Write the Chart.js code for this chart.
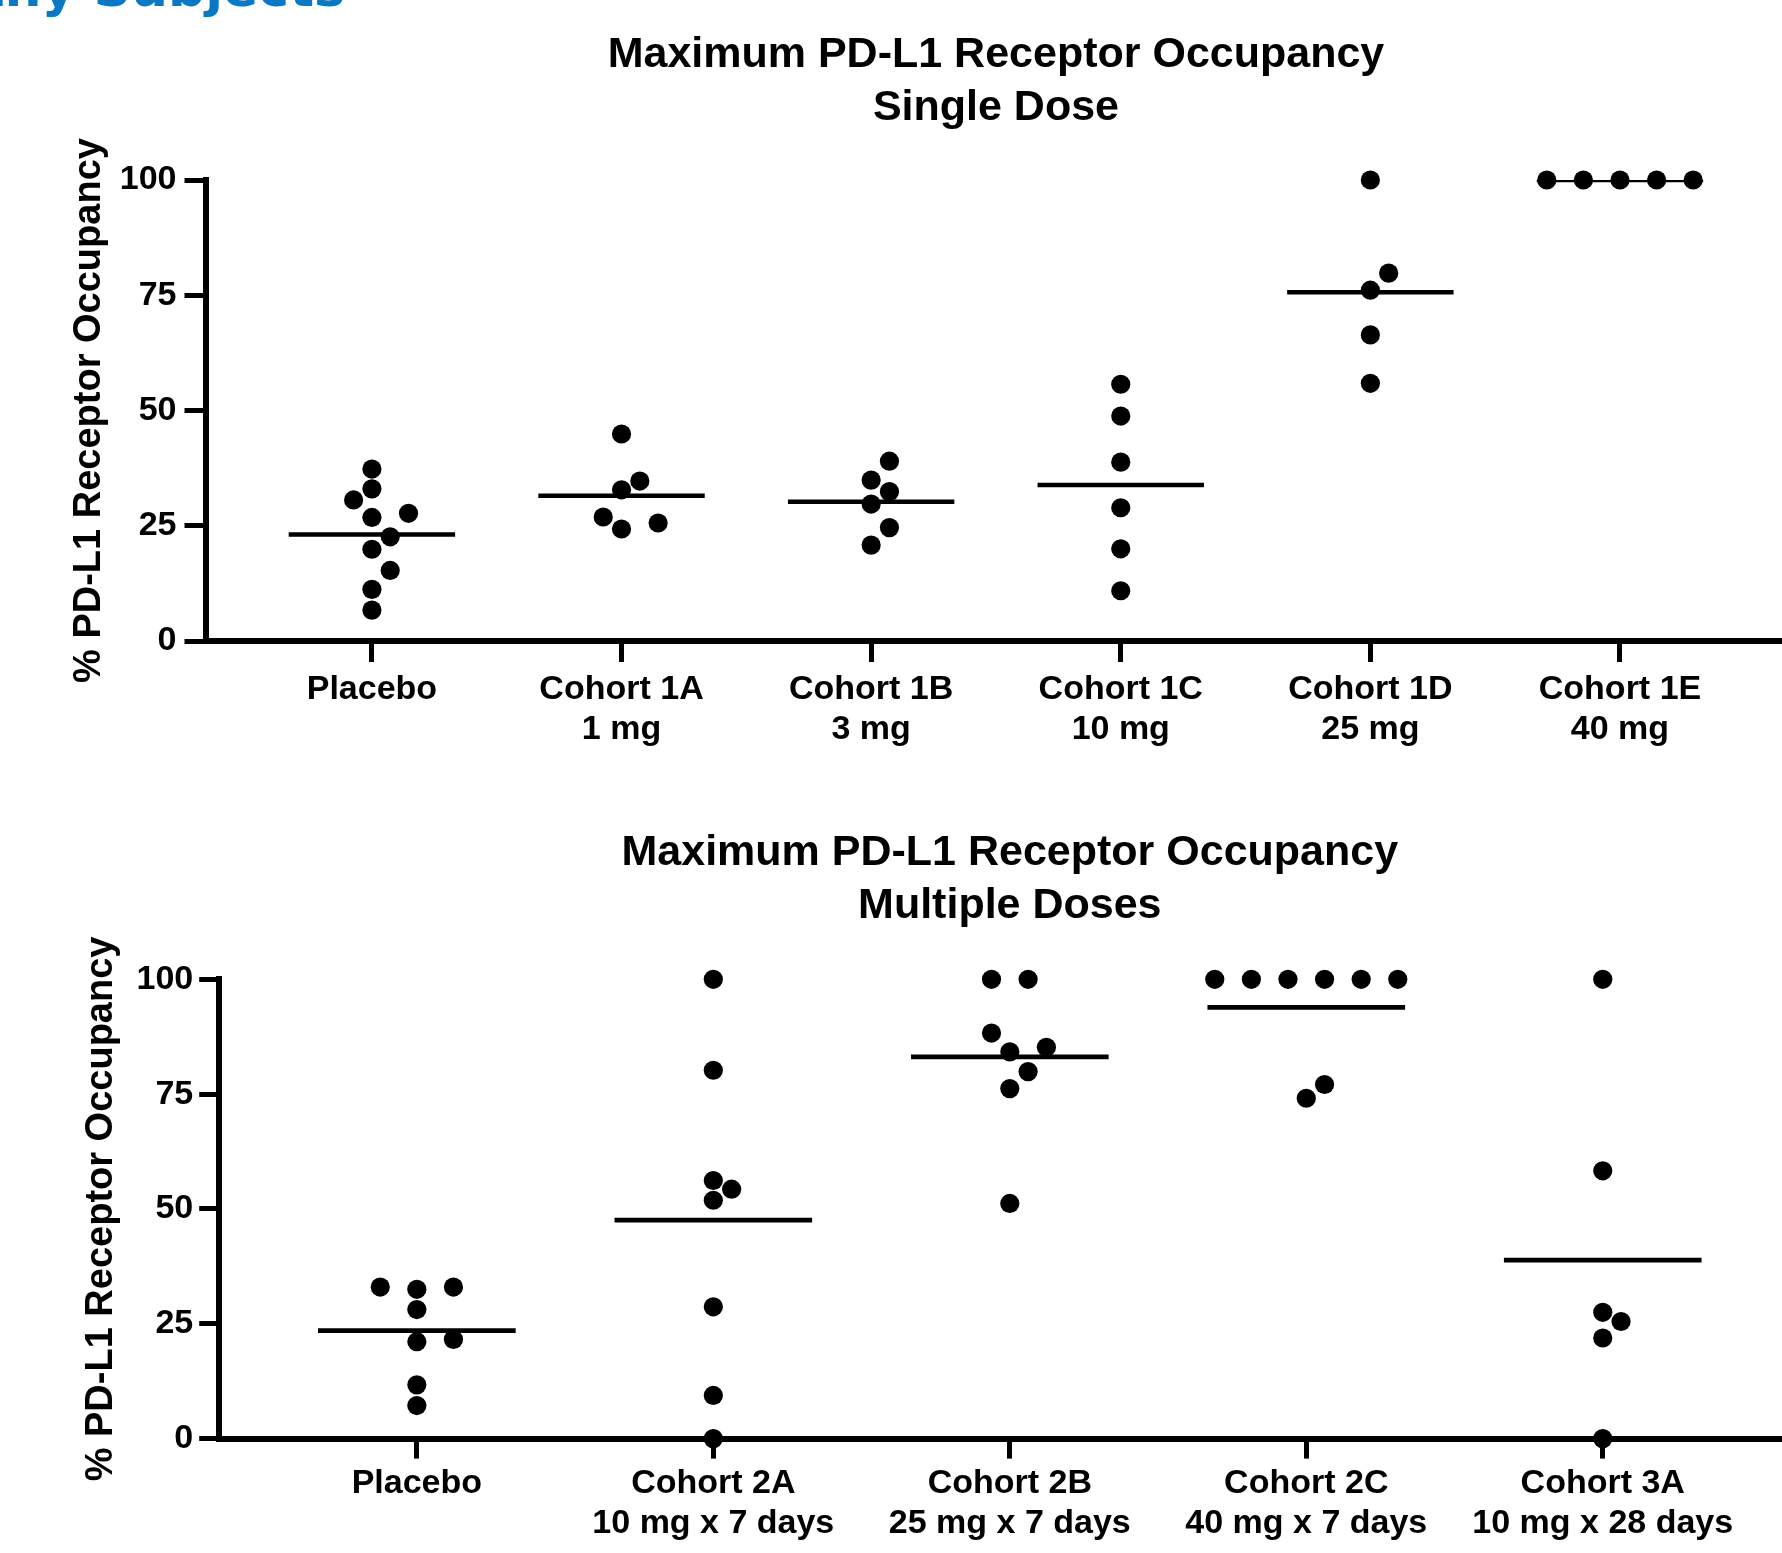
<!DOCTYPE html>
<html><head><meta charset="utf-8">
<script src="https://cdn.jsdelivr.net/npm/chart.js@4.4.1/dist/chart.umd.min.js"></script>
<style>
html,body{margin:0;padding:0;background:#fff;overflow:hidden;}
body{width:1782px;height:1553px;position:relative;}
#heading{position:absolute;right:1437px;top:-42px;font-family:"DejaVu Sans",sans-serif;font-weight:bold;font-size:52px;line-height:60px;color:#0a78c2;white-space:nowrap;}
#c1{position:absolute;left:0;top:0;}
#c2{position:absolute;left:0;top:760px;}
</style></head><body>
<div id="heading">Healthy Subjects</div>
<canvas id="c1" width="1796" height="760"></canvas>
<canvas id="c2" width="1810" height="793"></canvas>
<script>
// ---------- DATA ----------
const yTickValues = [0, 25, 50, 75, 100];

const singleTitle = ['Maximum PD-L1 Receptor Occupancy', 'Single Dose'];
const singleCategories = [['Placebo'], ['Cohort 1A', '1 mg'], ['Cohort 1B', '3 mg'], ['Cohort 1C', '10 mg'], ['Cohort 1D', '25 mg'], ['Cohort 1E', '40 mg']];
const sdPlacebo = [37.3, 33.0, 30.6, 27.7, 26.8, 22.6, 19.9, 15.3, 11.2, 6.7];
const sd1A = [44.9, 34.7, 32.8, 26.9, 25.6, 24.3];
const sd1B = [39.0, 34.9, 32.4, 29.7, 24.6, 20.8];
const sd1C = [55.7, 48.8, 38.8, 28.9, 20.0, 10.9];
const sd1D = [100, 79.8, 76.1, 66.4, 55.9];
const sd1E = [100, 100, 100, 100, 100];

const multiTitle = ['Maximum PD-L1 Receptor Occupancy', 'Multiple Doses'];
const multiCategories = [['Placebo'], ['Cohort 2A', '10 mg x 7 days'], ['Cohort 2B', '25 mg x 7 days'], ['Cohort 2C', '40 mg x 7 days'], ['Cohort 3A', '10 mg x 28 days']];
const mdPlacebo = [33.0, 32.5, 33.0, 28.1, 21.6, 21.1, 11.7, 7.2];
const md2A = [100, 80.2, 56.2, 54.3, 51.9, 28.7, 9.4, 0];
const md2B = [100, 100, 88.3, 85.2, 84.2, 79.9, 76.2, 51.2];
const md2C = [100, 100, 100, 100, 100, 100, 77.1, 74.1];
const md3A = [100, 58.3, 27.5, 25.5, 21.9, 0];

const yAxisTitle = '% PD-L1 Receptor Occupancy';

// ---------- HELPERS ----------
const FONT = '"Liberation Sans", Arial, Helvetica, sans-serif';
Chart.defaults.font.family = FONT;
Chart.defaults.font.weight = 'bold';
Chart.defaults.color = '#000';

function mean(a) { return a.reduce((s, v) => s + v, 0) / a.length; }

// simple beeswarm: offsets in "slots" so dots don't overlap
function swarm(values, pxY, stepPx, minDist) {
  const order = values.map((v, i) => i).sort((a, b) => values[a] - values[b]);
  const k = new Array(values.length).fill(0);
  const placed = [];
  let last = 0;
  const hits = (y, kk, skip) => placed.some(p => !(skip && skip.has(p.i)) && Math.hypot((p.k - kk) * stepPx, p.y - y) < minDist);
  for (const i of order) {
    const y = values[i] * pxY;
    let c = 0;
    if (hits(y, 0)) {
      for (let m = 1; m < 30; m++) {
        const cand = last > 0 ? [-m, m] : [m, -m];
        const f = cand.find(cc => !hits(y, cc));
        if (f !== undefined) { c = f; break; }
      }
    }
    k[i] = c; last = c;
    placed.push({ i, y, k: c });
  }
  // recentre rows of identical values
  const rows = {};
  values.forEach((v, i) => { (rows[v] = rows[v] || []).push(i); });
  Object.values(rows).forEach(r => {
    if (r.length < 2) return;
    const sh = -mean(r.map(i => k[i]));
    if (!sh) return;
    const skip = new Set(r);
    const ok = r.every(i => !hits(values[i] * pxY, k[i] + sh, skip));
    if (ok) r.forEach(i => { k[i] += sh; placed.find(p => p.i === i).k = k[i]; });
  });
  return k;
}

function buildChart(canvasId, cfg) {
  const groups = cfg.groups;
  const n = groups.length;
  const pts = [];
  groups.forEach((g, ci) => g.forEach(v => pts.push({ x: ci, y: v })));
  const meanData = [];
  groups.forEach((g, ci) => {
    const m = mean(g);
    meanData.push({ x: ci - 1 / 3, y: m }, { x: ci + 1 / 3, y: m }, { x: ci + 0.5, y: null });
  });
  const chart = new Chart(document.getElementById(canvasId), {
    type: 'scatter',
    data: {
      datasets: [
        { data: meanData, showLine: true, borderColor: '#000', borderWidth: cfg.meanWidth, borderCapStyle: 'butt', pointRadius: 0, pointHoverRadius: 0, spanGaps: false },
        { data: pts, pointRadius: 9.6, pointHoverRadius: 9.6, backgroundColor: '#000', borderWidth: 0, clip: false }
      ]
    },
    options: {
      responsive: false, animation: false, devicePixelRatio: 1,
      events: [],
      layout: { padding: { left: 0, right: cfg.padRight, top: 0, bottom: 0 } },
      plugins: {
        legend: { display: false },
        tooltip: { enabled: false },
        title: {
          display: true, text: cfg.title, fullSize: false, color: '#000',
          font: { size: 43, weight: 'bold', lineHeight: 1.221 },
          padding: { top: cfg.titleTop, bottom: cfg.titleBottom }
        }
      },
      scales: {
        x: {
          type: 'linear', min: -2 / 3, max: n - 1 + 2 / 3,
          afterBuildTicks: s => { s.ticks = groups.map((g, i) => ({ value: i })); },
          afterFit: s => { s.height = cfg.xHeight; },
          ticks: {
            autoSkip: false, maxRotation: 0, minRotation: 0, color: '#000',
            padding: cfg.xPad, font: { size: cfg.xFont, weight: 'bold', lineHeight: cfg.xLine },
            callback: v => cfg.categories[v]
          },
          grid: { display: true, drawOnChartArea: false, drawTicks: true, tickLength: cfg.xTick, tickWidth: 5, tickColor: '#000' },
          border: { display: true, width: 6, color: '#000' }
        },
        y: {
          min: 0, max: 100,
          afterBuildTicks: s => { s.ticks = yTickValues.map(v => ({ value: v })); },
          afterFit: s => { s.width = cfg.yWidth; },
          ticks: { color: '#000', padding: cfg.yPad, font: { size: 34, weight: 'bold' } },
          grid: { display: true, drawOnChartArea: false, drawTicks: true, tickLength: cfg.yTick, tickWidth: 5, tickColor: '#000' },
          border: { display: true, width: 6, color: '#000' },
          title: {
            display: true, text: yAxisTitle, color: '#000',
            font: { size: 38, weight: 'bold', lineHeight: 1.2 },
            padding: { top: cfg.yTitlePad, bottom: 0 }
          }
        }
      }
    }
  });
  // place dots side by side where they would overlap
  const xs = chart.scales.x, ys = chart.scales.y;
  const pxY = Math.abs(ys.getPixelForValue(0) - ys.getPixelForValue(1));
  const pxX = xs.getPixelForValue(1) - xs.getPixelForValue(0);
  const step = 18.3;
  const newPts = [];
  groups.forEach((g, ci) => {
    const k = swarm(g, pxY, step, 19.5);
    g.forEach((v, j) => newPts.push({ x: ci + k[j] * step / pxX, y: v }));
  });
  chart.data.datasets[1].data = newPts;
  chart.update('none');
  return chart;
}

buildChart('c1', {
  groups: [sdPlacebo, sd1A, sd1B, sd1C, sd1D, sd1E],
  categories: singleCategories, title: singleTitle,
  padRight: 1, titleTop: 29.25, titleBottom: 45.75,
  xHeight: 119, xPad: 7.3, xFont: 34, xLine: 1.176, xTick: 21,
  yWidth: 205.5, yPad: 8, yTick: 21, yTitlePad: 67.2, meanWidth: 4.5
});
buildChart('c2', {
  groups: [mdPlacebo, md2A, md2B, md2C, md3A],
  categories: multiCategories, title: multiTitle,
  padRight: 0, titleTop: 67.15, titleBottom: 47.15,
  xHeight: 114.4, xPad: 5.15, xFont: 34, xLine: 1.18, xTick: 20,
  yWidth: 219.2, yPad: 6, yTick: 20, yTitlePad: 79.2, meanWidth: 4.8
});
</script>
</body></html>
